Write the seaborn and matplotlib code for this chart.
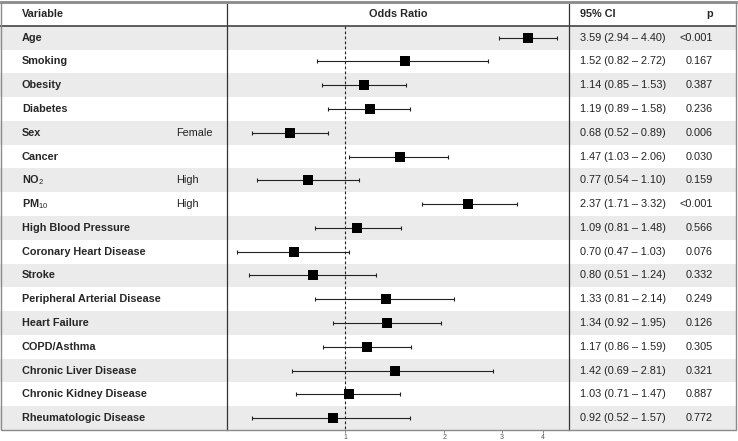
import matplotlib
matplotlib.use("Agg")
import matplotlib.pyplot as plt
import matplotlib.transforms as mtransforms
from matplotlib.ticker import FixedLocator, FixedFormatter, NullLocator
from matplotlib.patches import Rectangle
import seaborn as sns
import pandas as pd

variables = ["Age", "Smoking", "Obesity", "Diabetes", "Sex", "Cancer", "NO$_2$", "PM$_{10}$",
             "High Blood Pressure", "Coronary Heart Disease", "Stroke",
             "Peripheral Arterial Disease", "Heart Failure", "COPD/Asthma",
             "Chronic Liver Disease", "Chronic Kidney Disease", "Rheumatologic Disease"]
levels = ["", "", "", "", "Female", "", "High", "High", "", "", "", "", "", "", "", "", ""]
odds = [3.59, 1.52, 1.14, 1.19, 0.68, 1.47, 0.77, 2.37, 1.09, 0.70, 0.80, 1.33, 1.34, 1.17, 1.42, 1.03, 0.92]
lower = [2.94, 0.82, 0.85, 0.89, 0.52, 1.03, 0.54, 1.71, 0.81, 0.47, 0.51, 0.81, 0.92, 0.86, 0.69, 0.71, 0.52]
upper = [4.40, 2.72, 1.53, 1.58, 0.89, 2.06, 1.10, 3.32, 1.48, 1.03, 1.24, 2.14, 1.95, 1.59, 2.81, 1.47, 1.57]
pvals = ["<0.001", "0.167", "0.387", "0.236", "0.006", "0.030", "0.159", "<0.001", "0.566",
         "0.076", "0.332", "0.249", "0.126", "0.305", "0.321", "0.887", "0.772"]
xticks = [1, 2, 3, 4]

df = pd.DataFrame({"var": variables, "level": levels, "or": odds, "lo": lower, "hi": upper, "p": pvals})
df["row"] = range(len(df))

sns.set_style("white")
plt.rcParams["font.family"] = ["Liberation Sans", "DejaVu Sans"]
plt.rcParams["mathtext.fontset"] = "custom"
plt.rcParams["mathtext.rm"] = "Liberation Sans"
plt.rcParams["mathtext.it"] = "Liberation Sans"
plt.rcParams["mathtext.bf"] = "Liberation Sans:bold"

W, H = 738, 441
fig = plt.figure(figsize=(W / 100, H / 100), dpi=100)
x0, x1 = 227, 569
ax = fig.add_axes([x0 / W, (H - 430) / H, (x1 - x0) / W, (430 - 2) / H])
ax.set_facecolor("none")

fs = 7.8
n = len(df)
band = "#ebebeb"
ax_l = -x0 / (x1 - x0)
ax_r = (736 - x0) / (x1 - x0)

# alternating row bands across the whole table
for i in range(0, n, 2):
    ax.axhspan(i - 0.5, i + 0.5, xmin=ax_l, xmax=ax_r, color=band, lw=0, zorder=0, clip_on=False)

# whiskers and squares
ax.errorbar(df["or"], df["row"], xerr=[df["or"] - df["lo"], df["hi"] - df["or"]],
            fmt="none", ecolor="#222222", elinewidth=0.8, capsize=1.6, capthick=0.8, zorder=2)
sns.scatterplot(data=df, x="or", y="row", marker="s", color="black", s=48,
                linewidth=0, ax=ax, zorder=3, legend=False)

ax.plot([1, 1], [-0.5, n - 0.5], color="#222222", lw=0.8, ls=(0, (2.5, 2)), zorder=1)

ax.set_xscale("log")
ax.set_xlim(0.438, 4.79)
ax.set_ylim(n - 0.5, -1.5)
ax.xaxis.set_major_locator(FixedLocator(xticks))
ax.xaxis.set_major_formatter(FixedFormatter([str(t) for t in xticks]))
ax.xaxis.set_minor_locator(NullLocator())
ax.set_yticks([])
ax.set_xlabel("")
ax.set_ylabel("")
ax.tick_params(axis="x", length=2, width=0.5, pad=1, labelsize=5, colors="#555555", bottom=True)

for s in ["top", "bottom"]:
    ax.spines[s].set_visible(False)
for s in ["left", "right"]:
    ax.spines[s].set_color("#333333")
    ax.spines[s].set_linewidth(0.9)

# header separator
ax.axhline(-0.5, xmin=ax_l, xmax=ax_r, color="#444444", lw=1.2, clip_on=False, zorder=4)

# outer border
fig.patches.append(Rectangle((1 / W, (H - 430) / H), 735 / W, 428.5 / H, transform=fig.transFigure,
                             fill=False, edgecolor="#8a8a8a", lw=1.0, zorder=5))
fig.lines.append(plt.Line2D([0, 1], [(H - 1.5) / H] * 2, transform=fig.transFigure,
                            color="#9a9a9a", lw=2.2))

tr = mtransforms.blended_transform_factory(fig.transFigure, ax.transData)

# header
ax.text(22 / W, -1, "Variable", transform=tr, fontsize=fs, fontweight="bold", va="center")
ax.text((x0 + x1) / 2 / W, -1, "Odds Ratio", transform=tr, fontsize=fs, fontweight="bold",
        va="center", ha="center")
ax.text(580 / W, -1, "95% CI", transform=tr, fontsize=fs, fontweight="bold", va="center")
ax.text(713 / W, -1, "p", transform=tr, fontsize=fs, fontweight="bold", va="center", ha="right")

for _, r in df.iterrows():
    y = r["row"]
    ax.text(22 / W, y, r["var"], transform=tr, fontsize=fs, fontweight="bold", va="center")
    if r["level"]:
        ax.text(176 / W, y, r["level"], transform=tr, fontsize=fs, va="center", color="#222222")
    ci = f"{r['or']:.2f} ({r['lo']:.2f} \u2013 {r['hi']:.2f})"
    ax.text(580 / W, y, ci, transform=tr, fontsize=fs, va="center", color="#222222")
    ax.text(713 / W, y, r["p"], transform=tr, fontsize=fs, va="center", ha="right", color="#222222")

fig.savefig("out.png", dpi=100)
